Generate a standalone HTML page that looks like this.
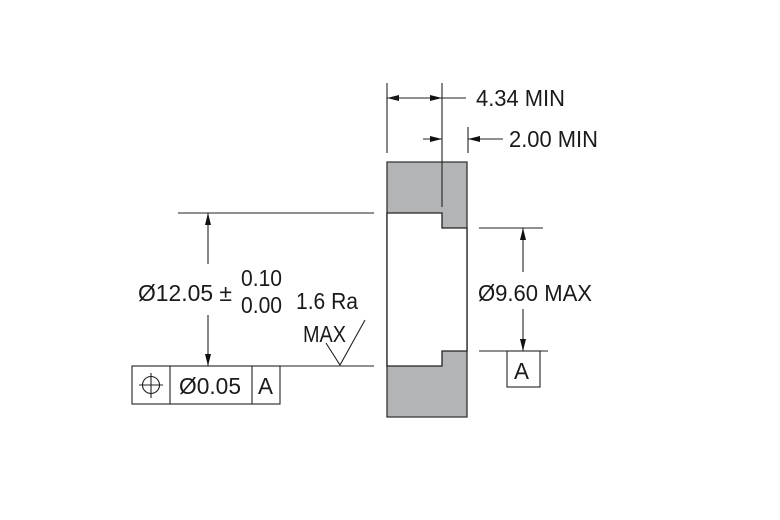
<!DOCTYPE html>
<html><head><meta charset="utf-8"><style>html,body{margin:0;padding:0;background:#fff}svg{display:block}text{font-family:"Liberation Sans",Arial,sans-serif;fill:#1a1a1a}</style></head>
<body>
<svg width="780" height="520" viewBox="0 0 780 520" xmlns="http://www.w3.org/2000/svg">
<defs>
<marker id="a" viewBox="0 0 12 6" refX="12" refY="3" markerWidth="12" markerHeight="6" markerUnits="userSpaceOnUse" orient="auto"><path d="M0,0 L12,3 L0,6 z" fill="#111"/></marker>
</defs>
<path d="M387,162 H467 V417 H387 Z" fill="#b3b4b6" stroke="#333" stroke-width="1.3"/>
<path d="M387,213 H442 V228 H467 V351 H442 V366 H387 Z" fill="#fff" stroke="#222" stroke-width="1.3"/>
<g stroke="#222" stroke-width="1.1" fill="none">
<line x1="387" y1="83" x2="387" y2="153"/>
<line x1="442" y1="83" x2="442" y2="207"/>
<line x1="468" y1="127" x2="468" y2="153"/>
<line x1="442" y1="98" x2="387" y2="98" marker-end="url(#a)"/>
<line x1="387" y1="98" x2="442" y2="98" marker-end="url(#a)"/>
<line x1="442" y1="98" x2="466" y2="98"/>
<line x1="423" y1="139" x2="442" y2="139" marker-end="url(#a)"/>
<line x1="503" y1="139" x2="468" y2="139" marker-end="url(#a)"/>
<line x1="479" y1="228" x2="543" y2="228"/>
<line x1="479" y1="351" x2="548" y2="351"/>
<line x1="523" y1="272" x2="523" y2="228" marker-end="url(#a)"/>
<line x1="523" y1="309" x2="523" y2="351" marker-end="url(#a)"/>
<rect x="507" y="351" width="33" height="36"/>
<line x1="178" y1="213" x2="374" y2="213"/>
<line x1="278" y1="366" x2="374" y2="366"/>
<line x1="208" y1="264" x2="208" y2="213" marker-end="url(#a)"/>
<line x1="208" y1="315" x2="208" y2="366" marker-end="url(#a)"/>
<rect x="132" y="366" width="148" height="38"/>
<line x1="170" y1="366" x2="170" y2="404"/>
<line x1="252" y1="366" x2="252" y2="404"/>
<circle cx="151" cy="385" r="8.5"/>
<line x1="139" y1="385" x2="163" y2="385"/>
<line x1="151" y1="373" x2="151" y2="398"/>
<polyline points="326,343 340,365 365,320"/>
</g>
<g font-size="23">
<text x="476" y="106" textLength="89" lengthAdjust="spacingAndGlyphs">4.34 MIN</text>
<text x="509" y="147" textLength="89" lengthAdjust="spacingAndGlyphs">2.00 MIN</text>
<text x="478" y="301" textLength="114" lengthAdjust="spacingAndGlyphs">Ø9.60 MAX</text>
<text x="514" y="379" textLength="15" lengthAdjust="spacingAndGlyphs">A</text>
<text x="138" y="301" textLength="94" lengthAdjust="spacingAndGlyphs">Ø12.05 ±</text>
<text x="241" y="286" textLength="41" lengthAdjust="spacingAndGlyphs">0.10</text>
<text x="241" y="313" textLength="41" lengthAdjust="spacingAndGlyphs">0.00</text>
<text x="296" y="309" textLength="62" lengthAdjust="spacingAndGlyphs">1.6 Ra</text>
<text x="303" y="342" textLength="43" lengthAdjust="spacingAndGlyphs">MAX</text>
<text x="179" y="394" textLength="62" lengthAdjust="spacingAndGlyphs">Ø0.05</text>
<text x="258" y="394" textLength="15" lengthAdjust="spacingAndGlyphs">A</text>
</g>
</svg>
</body></html>
